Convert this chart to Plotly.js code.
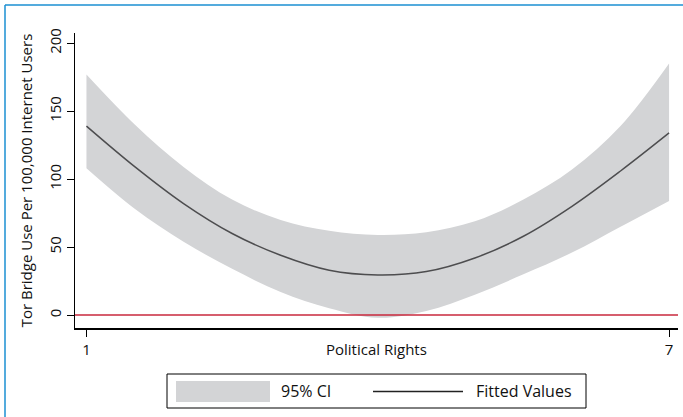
<!DOCTYPE html>
<html>
<head>
<meta charset="utf-8">
<script src="https://cdn.plot.ly/plotly-3.0.1.min.js"></script>
<style>html,body{margin:0;padding:0;background:#fff;}#chart{width:683px;height:417px;}</style>
</head>
<body>
<div id="chart"></div>
<script>
// Data
const politicalRights = [1, 1.5, 2, 2.5, 3, 3.5, 4, 4.5, 5, 5.5, 6, 6.5, 7];
const fittedValues    = [139, 109, 82, 60, 44, 33, 29.5, 32, 42, 58, 80, 106, 134];
const ciUpper         = [177, 140, 109, 85, 70, 62, 59, 61, 69, 85, 107, 139, 185];
const ciLower         = [108, 78, 54, 34, 17, 5, -2, 3, 15, 30, 46, 65, 84];
const xTickVals = [1, 7];
const xTickText = ['1', '7'];
const yTickVals = [0, 50, 100, 150, 200];
const yTickText = ['0', '50', '100', '150', '200'];
const legendLabels = ['95% CI', 'Fitted Values'];
const xTitle = 'Political Rights';
const yTitle = 'Tor Bridge Use Per 100,000 Internet Users';

const W = 683, H = 417;
const M = {l: 75, r: 5, t: 33, b: 89};
const pw = W - M.l - M.r, ph = H - M.t - M.b;
const px = x => (x - M.l) / pw;           // pixel -> paper x
const py = y => (H - M.b - y) / ph;       // pixel -> paper y

const FONT = '"Open Sans", "Noto Sans", sans-serif';
const bandColor = '#d3d4d6';
const lineColor = '#4d4d4f';

const traces = [
  {x: politicalRights, y: ciLower, type: 'scatter', mode: 'lines', line: {width: 0, shape: 'spline', smoothing: 1},
   hoverinfo: 'skip', showlegend: false},
  {x: politicalRights, y: ciUpper, type: 'scatter', mode: 'lines', fill: 'tonexty', fillcolor: bandColor,
   line: {width: 0, shape: 'spline', smoothing: 1}, name: legendLabels[0], showlegend: false},
  {x: politicalRights, y: fittedValues, type: 'scatter', mode: 'lines',
   line: {color: lineColor, width: 1.5, shape: 'spline', smoothing: 1}, name: legendLabels[1], showlegend: false}
];

const shapes = [
  // y = 0 reference line
  {type: 'line', xref: 'paper', yref: 'y', x0: 0, x1: 1, y0: 0, y1: 0, line: {color: '#c8283c', width: 1.5}, layer: 'above'},
  // legend box
  {type: 'rect', xref: 'paper', yref: 'paper', x0: px(167), x1: px(586), y0: py(374), y1: py(408),
   line: {color: '#000', width: 1}, fillcolor: '#fff'},
  {type: 'rect', xref: 'paper', yref: 'paper', x0: px(176), x1: px(270), y0: py(381), y1: py(402),
   line: {width: 0}, fillcolor: bandColor},
  {type: 'line', xref: 'paper', yref: 'paper', x0: px(373), x1: px(463), y0: py(391.5), y1: py(391.5),
   line: {color: '#222', width: 1.5}},
  // blue frame from the source document
  {type: 'line', xref: 'paper', yref: 'paper', x0: px(5), x1: px(5), y0: py(5), y1: py(417),
   line: {color: '#1b8fd2', width: 1.5}},
  {type: 'line', xref: 'paper', yref: 'paper', x0: px(5), x1: px(683), y0: py(5), y1: py(5),
   line: {color: '#1b8fd2', width: 1.5}}
];

const annotations = [
  {xref: 'paper', yref: 'paper', x: 0.5, y: py(349), text: xTitle, showarrow: false,
   xanchor: 'center', yanchor: 'middle', font: {family: FONT, size: 15, color: '#111'}},
  {xref: 'paper', yref: 'paper', x: px(279), y: py(391), text: legendLabels[0], showarrow: false,
   xanchor: 'left', yanchor: 'middle', font: {family: FONT, size: 16, color: '#111'}},
  {xref: 'paper', yref: 'paper', x: px(474), y: py(391), text: legendLabels[1], showarrow: false,
   xanchor: 'left', yanchor: 'middle', font: {family: FONT, size: 16, color: '#111'}}
];

const layout = {
  width: W, height: H,
  margin: M,
  paper_bgcolor: '#fff', plot_bgcolor: '#fff',
  showlegend: false,
  font: {family: FONT, size: 13, color: '#111'},
  xaxis: {
    range: [0.882, 7.092], showgrid: false, zeroline: false,
    showline: true, linecolor: '#000', linewidth: 1.5,
    ticks: 'outside', ticklen: 7, tickwidth: 1, tickcolor: '#000',
    tickvals: xTickVals, ticktext: xTickText,
    tickfont: {family: FONT, size: 15, color: '#111'}
  },
  yaxis: {
    range: [-9.5, 207.5], showgrid: false, zeroline: false,
    showline: true, linecolor: '#000', linewidth: 1.5,
    ticks: 'outside', ticklen: 7, tickwidth: 1, tickcolor: '#000',
    tickvals: yTickVals, ticktext: yTickText, tickangle: -90,
    tickfont: {family: FONT, size: 15, color: '#111'},
    title: {text: yTitle, font: {family: FONT, size: 15, color: '#111'}, standoff: 8}
  },
  shapes: shapes,
  annotations: annotations
};

Plotly.newPlot('chart', traces, layout, {displayModeBar: false, staticPlot: true});
</script>
</body>
</html>
